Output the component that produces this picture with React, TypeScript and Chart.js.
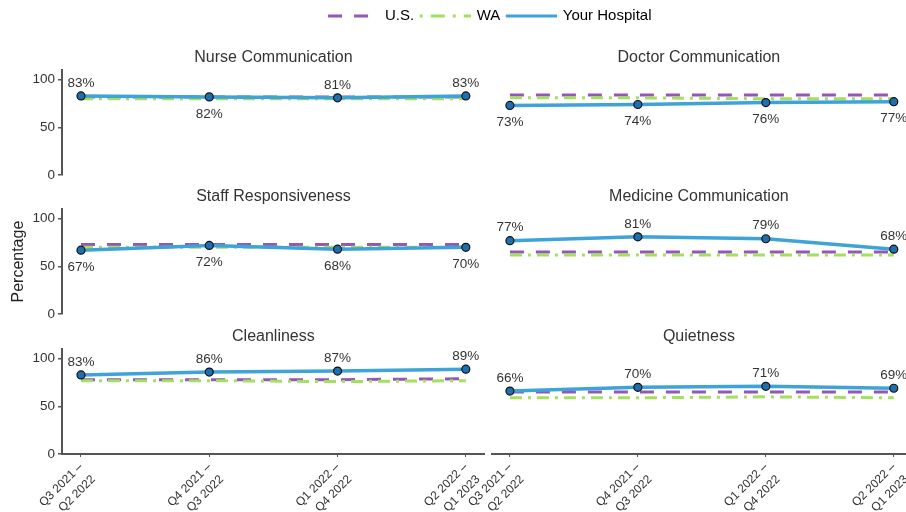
import React, { useEffect, useRef } from 'react';
import { Chart, registerables } from 'chart.js';

Chart.register(...registerables);

const FONT = '"Liberation Sans", Arial, Helvetica, sans-serif';

// ---------- data ----------
const periods: string[][] = [
  ['Q3 2021 –', 'Q2 2022'],
  ['Q4 2021 –', 'Q3 2022'],
  ['Q1 2022 –', 'Q4 2022'],
  ['Q2 2022 –', 'Q1 2023'],
];
const seriesNames = ['U.S.', 'WA', 'Your Hospital'];
const panelTitles = [
  'Nurse Communication',
  'Doctor Communication',
  'Staff Responsiveness',
  'Medicine Communication',
  'Cleanliness',
  'Quietness',
];
const usValues = [
  [82, 82, 82, 82],
  [84, 84, 84, 84],
  [73, 73, 73, 73],
  [65, 65, 65, 65],
  [78, 78, 78, 79],
  [65, 65, 65, 65],
];
const waValues = [
  [80, 80, 80, 80],
  [81, 81, 80, 80],
  [70, 70, 70, 70],
  [62, 62, 62, 62],
  [77, 77, 76, 77],
  [59, 59, 60, 59],
];
const hospitalValues = [
  [83, 82, 81, 83],
  [73, 74, 76, 77],
  [67, 72, 68, 70],
  [77, 81, 79, 68],
  [83, 86, 87, 89],
  [66, 70, 71, 69],
];
const labelSides = [
  ['above', 'below', 'above', 'above'],
  ['below', 'below', 'below', 'below'],
  ['below', 'below', 'below', 'below'],
  ['above', 'above', 'above', 'above'],
  ['above', 'above', 'above', 'above'],
  ['above', 'above', 'above', 'above'],
];
const yTickValues = [0, 50, 100];
const yAxisTitle = 'Percentage';

// ---------- style ----------
const C = {
  us: '#9457b6',
  wa: '#a2e05e',
  hosp: '#3ea4d8',
  point: '#1f6fae',
  pointBorder: '#111111',
  text: '#333333',
  axis: '#555555',
};
const US_DASH = [14, 12];
const WA_DASH = [12, 6, 3, 6];

const COLS = [
  { left: 0, width: 490, padL: 0, padR: 0, xMin: -0.148, xMax: 3.148, yAxis: true },
  { left: 440, width: 471, padL: 52, padR: 0, xMin: -0.14, xMax: 3.094, yAxis: false },
];
const ROWS = [
  { top: 40, height: 147, padB: 12, xAxis: false },
  { top: 179, height: 147, padB: 12, xAxis: false },
  { top: 319, height: 193, padB: 0, xAxis: true },
];

function makePointLabels(idx: number) {
  return {
    id: 'pointLabels' + idx,
    afterDatasetsDraw(chart: any) {
      const meta = chart.getDatasetMeta(0);
      const ctx = chart.ctx;
      ctx.save();
      ctx.font = `13.5px ${FONT}`;
      ctx.fillStyle = C.text;
      ctx.textAlign = 'center';
      ctx.textBaseline = 'middle';
      meta.data.forEach((el: any, i: number) => {
        const v = hospitalValues[idx][i];
        const dy = labelSides[idx][i] === 'above' ? -13 : 17;
        ctx.fillText(`${v}%`, el.x, el.y + dy);
      });
      ctx.restore();
    },
  };
}

function Panel({ index }: { index: number }) {
  const ref = useRef<HTMLCanvasElement>(null);
  const col = COLS[index % 2];
  const row = ROWS[Math.floor(index / 2)];
  const isMiddleLeft = index === 2;

  useEffect(() => {
    const pts = (arr: number[]) => arr.map((y, i) => ({ x: i, y }));
    const chart: any = new Chart(ref.current!, {
      type: 'line',
      data: {
        datasets: [
          {
            label: seriesNames[2],
            data: pts(hospitalValues[index]),
            borderColor: C.hosp,
            borderWidth: 3.5,
            pointRadius: 4,
            pointBackgroundColor: C.point,
            pointBorderColor: C.pointBorder,
            pointBorderWidth: 1.2,
            tension: 0,
            order: 0,
          },
          {
            label: seriesNames[0],
            data: pts(usValues[index]),
            borderColor: C.us,
            borderWidth: 3,
            borderDash: US_DASH,
            pointRadius: 0,
            tension: 0,
            order: 2,
          },
          {
            label: seriesNames[1],
            data: pts(waValues[index]),
            borderColor: C.wa,
            borderWidth: 3,
            borderDash: WA_DASH,
            pointRadius: 0,
            tension: 0,
            order: 1,
          },
        ],
      },
      options: {
        responsive: false,
        animation: false,
        events: [],
        layout: { padding: { left: col.padL, right: col.padR, top: 0, bottom: row.padB } },
        plugins: {
          legend: { display: false },
          tooltip: { enabled: false },
          title: {
            display: true,
            fullSize: false,
            text: panelTitles[index],
            color: C.text,
            font: { family: FONT, size: 16, weight: 'normal', lineHeight: 1.2 },
            padding: { top: 7.5, bottom: 3.5 },
          },
        },
        scales: {
          x: {
            type: 'linear',
            display: row.xAxis,
            min: col.xMin,
            max: col.xMax,
            afterBuildTicks: (s: any) => {
              s.ticks = periods.map((_, i) => ({ value: i }));
            },
            afterFit: (s: any) => {
              if (row.xAxis) s.height = 58;
              s.paddingLeft = 0;
              s.paddingRight = 0;
            },
            ticks: {
              autoSkip: false,
              minRotation: 45,
              maxRotation: 45,
              padding: 2,
              color: C.text,
              font: { family: FONT, size: 12, lineHeight: 1.45 },
              callback: (v: any) => periods[Math.round(v)] ?? '',
            },
            grid: { drawOnChartArea: false, drawTicks: true, tickLength: 3, color: C.axis, lineWidth: 1 },
            border: { display: true, color: C.axis, width: 2 },
          },
          y: {
            display: col.yAxis,
            min: 0,
            max: 110,
            afterBuildTicks: (s: any) => {
              s.ticks = yTickValues.map((v) => ({ value: v }));
            },
            afterFit: (s: any) => {
              if (col.yAxis) s.width = 62;
              s.paddingTop = 0;
              s.paddingBottom = 0;
            },
            ticks: {
              padding: 3,
              color: C.text,
              font: { family: FONT, size: 13.5 },
            },
            grid: { drawOnChartArea: false, drawTicks: true, tickLength: 4, color: C.axis, lineWidth: 1.5 },
            border: { display: true, color: C.axis, width: 2 },
            title: {
              display: isMiddleLeft,
              text: yAxisTitle,
              color: '#222',
              font: { family: FONT, size: 16, lineHeight: 1.2 },
              padding: { top: 9, bottom: 0 },
            },
          },
        },
      } as any,
      plugins: [makePointLabels(index)],
    });
    return () => chart.destroy();
  }, []);

  return (
    <canvas
      ref={ref}
      width={col.width}
      height={row.height}
      style={{ position: 'absolute', left: col.left, top: row.top, width: col.width, height: row.height }}
    />
  );
}

function makeSymbol(color: string, dash: number[], lw: number) {
  const c = document.createElement('canvas');
  c.width = 52;
  c.height = 8;
  const g = c.getContext('2d')!;
  g.strokeStyle = color;
  g.lineWidth = lw;
  g.setLineDash(dash);
  g.beginPath();
  g.moveTo(1, 4);
  g.lineTo(52, 4);
  g.stroke();
  return c;
}

function Legend() {
  const ref = useRef<HTMLCanvasElement>(null);
  useEffect(() => {
    const symbols = [
      makeSymbol(C.us, US_DASH, 3),
      makeSymbol(C.wa, [3, 8, 14, 8], 3),
      makeSymbol(C.hosp, [], 3),
    ];
    const colors = [C.us, C.wa, C.hosp];
    const chart = new Chart(ref.current!, {
      type: 'line',
      data: { datasets: seriesNames.map((n, i) => ({ label: n, data: [], borderColor: colors[i] })) },
      options: {
        responsive: false,
        animation: false,
        events: [],
        layout: { padding: { left: 74, top: 2.5 } },
        scales: { x: { display: false }, y: { display: false } },
        plugins: {
          tooltip: { enabled: false },
          legend: {
            display: true,
            position: 'top',
            align: 'center',
            labels: {
              color: C.text,
              font: { family: FONT, size: 15 },
              padding: 6,
              usePointStyle: true,
              pointStyleWidth: 49,
              boxHeight: 8,
              generateLabels: () =>
                seriesNames.map((n, i) => ({
                  text: n,
                  fillStyle: colors[i],
                  strokeStyle: colors[i],
                  lineWidth: 0,
                  hidden: false,
                  datasetIndex: i,
                  pointStyle: symbols[i],
                })),
            },
          },
        },
      } as any,
    });
    return () => chart.destroy();
  }, []);
  return (
    <canvas
      ref={ref}
      width={906}
      height={80}
      style={{ position: 'absolute', left: 0, top: 0, width: 906, height: 80 }}
    />
  );
}

export default function App() {
  return (
    <div style={{ position: 'absolute', left: 0, top: 0, width: 906, height: 512, background: '#ffffff', overflow: 'hidden' }}>
      <Legend />
      {[0, 1, 2, 3, 4, 5].map((i) => (
        <Panel key={i} index={i} />
      ))}
    </div>
  );
}
